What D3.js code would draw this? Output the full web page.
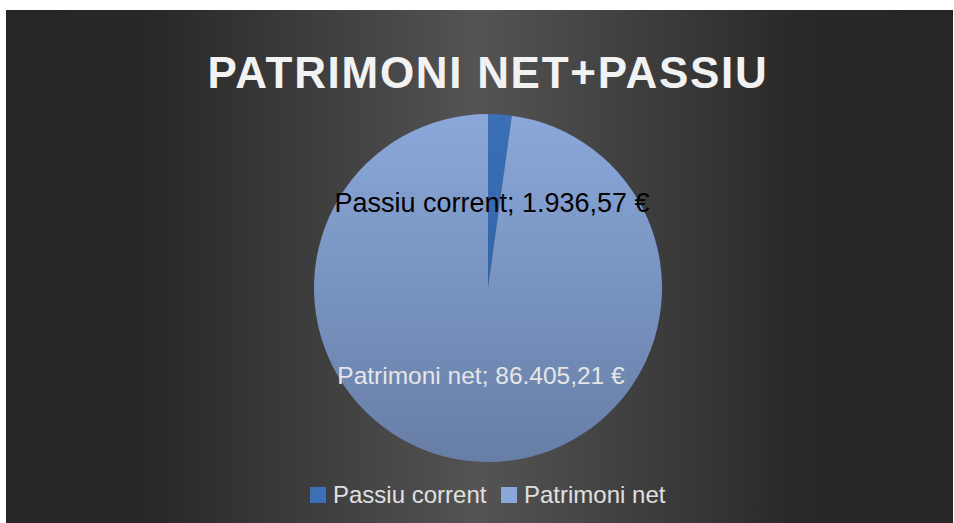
<!DOCTYPE html>
<html>
<head>
<meta charset="utf-8">
<title>Patrimoni net + passiu</title>
<style>
  html, body { margin: 0; padding: 0; background: #fff; }
  svg { display: block; }
  text { font-family: "Liberation Sans", Arial, Helvetica, sans-serif; }
</style>
</head>
<body>
<div id="chart"></div>
<script src="https://d3js.org/d3.v7.min.js"></script>
<script>
// data
var title = "PATRIMONI NET+PASSIU";
var categories = ["Passiu corrent", "Patrimoni net"];
var values = [1936.57, 86405.21];
var labels = ["Passiu corrent; 1.936,57 €", "Patrimoni net; 86.405,21 €"];

var width = 954, height = 523;
var cx = 488, cy = 288, radius = 174;

var svg = d3.select("#chart").append("svg")
    .attr("width", width)
    .attr("height", height);

var defs = svg.append("defs");

// background gradient, lighter strip in the middle
var bg = defs.append("linearGradient").attr("id", "bg")
    .attr("x1", "0%").attr("x2", "100%").attr("y1", "0%").attr("y2", "0%");
bg.append("stop").attr("offset", "0%").attr("stop-color", "#262626");
bg.append("stop").attr("offset", "16%").attr("stop-color", "#282828");
bg.append("stop").attr("offset", "50%").attr("stop-color", "#545454");
bg.append("stop").attr("offset", "84%").attr("stop-color", "#282828");
bg.append("stop").attr("offset", "100%").attr("stop-color", "#262626");

// slice gradients (top to bottom), coords relative to the pie group
var sliceColors = [["#3b70b6", "#2a5996"], ["#8aa8da", "#677ea6"]];
sliceColors.forEach(function(c, i) {
    var gr = defs.append("linearGradient").attr("id", "s" + i)
        .attr("gradientUnits", "userSpaceOnUse")
        .attr("x1", 0).attr("x2", 0)
        .attr("y1", -radius).attr("y2", radius);
    gr.append("stop").attr("offset", "0%").attr("stop-color", c[0]);
    gr.append("stop").attr("offset", "100%").attr("stop-color", c[1]);
});

svg.append("rect")
    .attr("x", 6).attr("y", 10)
    .attr("width", width - 7).attr("height", height - 10)
    .attr("fill", "url(#bg)");

svg.append("text")
    .attr("x", cx).attr("y", 88)
    .attr("text-anchor", "middle")
    .attr("fill", "#f2f2f2")
    .attr("font-size", 44)
    .attr("font-weight", "bold")
    .attr("letter-spacing", 1.7)
    .text(title);

var pie = d3.pie().sort(null).value(function(d) { return d; });
var arc = d3.arc().innerRadius(0).outerRadius(radius);
var arcs = pie(values);

var g = svg.append("g").attr("transform", "translate(" + cx + "," + cy + ")");

g.selectAll("path")
    .data(arcs)
    .enter().append("path")
    .attr("d", arc)
    .attr("fill", function(d, i) { return "url(#s" + i + ")"; });

// data labels
var labelPos = [[492, 212], [481, 384]];
var labelSize = [27, 24.5];
var labelColor = ["#000000", "#e6e6e6"];
svg.selectAll(".dlabel")
    .data(labels)
    .enter().append("text")
    .attr("class", "dlabel")
    .attr("x", function(d, i) { return labelPos[i][0]; })
    .attr("y", function(d, i) { return labelPos[i][1]; })
    .attr("text-anchor", "middle")
    .attr("font-size", function(d, i) { return labelSize[i]; })
    .attr("fill", function(d, i) { return labelColor[i]; })
    .text(function(d) { return d; });

// legend
var legendX = [310, 501];
var leg = svg.selectAll(".leg")
    .data(categories)
    .enter().append("g")
    .attr("class", "leg")
    .attr("transform", function(d, i) { return "translate(" + legendX[i] + ",487)"; });
leg.append("rect")
    .attr("width", 16).attr("height", 16)
    .attr("fill", function(d, i) { return sliceColors[i][0]; });
leg.append("text")
    .attr("x", 23).attr("y", 16)
    .attr("font-size", 24)
    .attr("fill", "#e0e0e0")
    .text(function(d) { return d; });
</script>
</body>
</html>
